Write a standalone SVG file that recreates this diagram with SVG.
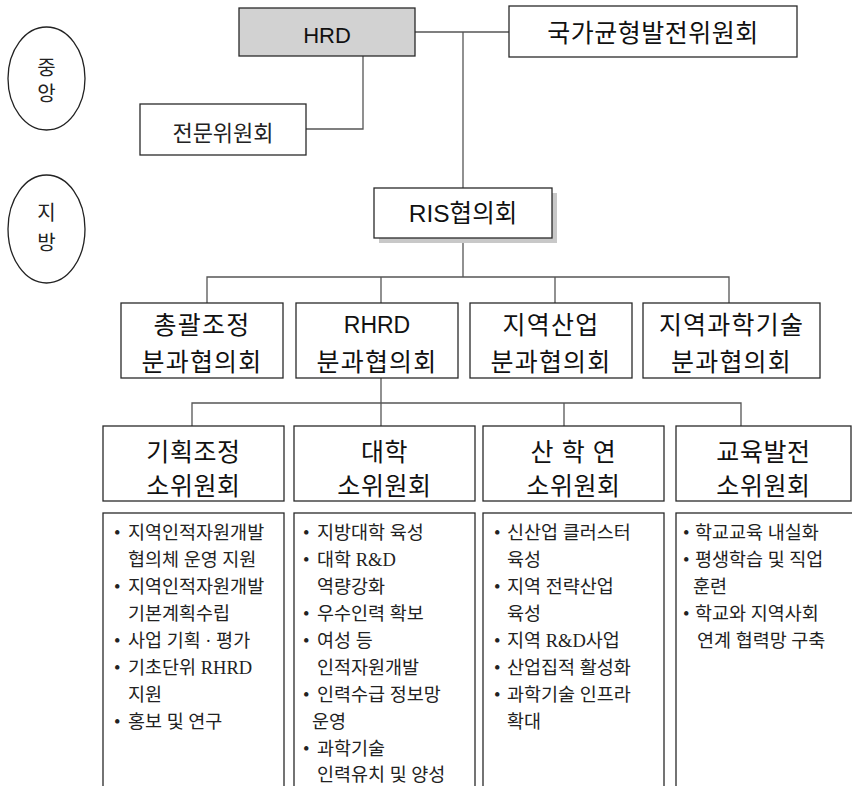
<svg xmlns="http://www.w3.org/2000/svg" width="852" height="786" viewBox="0 0 852 786">
<style>
.box{fill:#fff;stroke:#2a2a2a;stroke-width:1.3}
.ell{fill:#fff;stroke:#222;stroke-width:1.3}
.ln{fill:none;stroke:#555;stroke-width:1.3}
.t{font-family:"Liberation Sans","Noto Sans CJK KR",sans-serif;fill:#111;text-anchor:middle}
.l2{font-size:25px;letter-spacing:1.2px}
.l3{font-size:25px;letter-spacing:0.6px}
.s{font-family:"Liberation Serif","Noto Sans CJK KR",serif;fill:#222}
.b{font-size:18.5px}
</style>
<rect width="852" height="786" fill="#fff"/>
<g id="connectors">
<polyline class="ln" points="415,32 509,32"/>
<polyline class="ln" points="463,32 463,188"/>
<polyline class="ln" points="306,129 363,129 363,56"/>
<polyline class="ln" points="463,243 463,277"/>
<polyline class="ln" points="207,303 207,277 729,277 729,303"/>
<polyline class="ln" points="381,277 381,303"/>
<polyline class="ln" points="555,277 555,303"/>
<polyline class="ln" points="381,378 381,426"/>
<polyline class="ln" points="192,426 192,403 741,403 741,426"/>
<polyline class="ln" points="564,403 564,426"/>
</g>
<g id="central">
<ellipse class="ell" cx="46.5" cy="78.5" rx="38.5" ry="51.5"/>
<text class="s" x="46.5" y="75" font-size="20" text-anchor="middle">중</text>
<text class="s" x="46.5" y="101" font-size="20" text-anchor="middle">앙</text>
</g>
<g id="regional">
<ellipse class="ell" cx="46.5" cy="229" rx="38.5" ry="54"/>
<text class="s" x="46.5" y="220" font-size="20" text-anchor="middle">지</text>
<text class="s" x="46.5" y="250" font-size="20" text-anchor="middle">방</text>
</g>
<g id="hrd">
<rect x="239" y="8" width="176" height="48" fill="#d2d2d2" stroke="#2a2a2a" stroke-width="1.3"/>
<text class="t" x="327" y="43" font-size="22">HRD</text>
</g>
<g id="balance">
<rect class="box" x="509" y="6" width="288" height="51"/>
<text class="t" x="653" y="42" font-size="25" letter-spacing="0.5">국가균형발전위원회</text>
</g>
<g id="expert">
<rect class="box" x="140" y="104" width="166" height="51"/>
<text class="s" x="223" y="141" font-size="22" text-anchor="middle">전문위원회</text>
</g>
<g id="ris">
<rect x="379" y="193" width="178" height="50" fill="#c8c8c8"/>
<rect class="box" x="374" y="188" width="178" height="50"/>
<text class="t" x="463" y="222" font-size="24.5">RIS협의회</text>
</g>
<g id="sub-general">
<rect class="box" x="121" y="303" width="162" height="75"/>
<text class="t l2" x="202" y="334">총괄조정</text>
<text class="t l2" x="202" y="371">분과협의회</text>
</g>
<g id="sub-rhrd">
<rect class="box" x="296" y="303" width="162" height="75"/>
<text class="t" x="377" y="333" font-size="23">RHRD</text>
<text class="t l2" x="377" y="371">분과협의회</text>
</g>
<g id="sub-industry">
<rect class="box" x="470" y="303" width="162" height="75"/>
<text class="t l2" x="551" y="334">지역산업</text>
<text class="t l2" x="551" y="371">분과협의회</text>
</g>
<g id="sub-science">
<rect class="box" x="643" y="303" width="177" height="75"/>
<text class="t l2" x="731.5" y="334">지역과학기술</text>
<text class="t l2" x="731.5" y="371">분과협의회</text>
</g>
<g id="com-planning">
<rect class="box" x="103" y="426" width="181" height="75"/>
<text class="t l3" x="193.5" y="461">기획조정</text>
<text class="t l3" x="193.5" y="495">소위원회</text>
</g>
<g id="com-university">
<rect class="box" x="294" y="426" width="181" height="75"/>
<text class="t l3" x="384.5" y="461">대학</text>
<text class="t l3" x="384.5" y="495">소위원회</text>
</g>
<g id="com-industry">
<rect class="box" x="483" y="426" width="181" height="75"/>
<text class="t l3" x="573.5" y="461">산 학 연</text>
<text class="t l3" x="573.5" y="495">소위원회</text>
</g>
<g id="com-education">
<rect class="box" x="676" y="426" width="175" height="75"/>
<text class="t l3" x="763.5" y="461">교육발전</text>
<text class="t l3" x="763.5" y="495">소위원회</text>
</g>
<g id="list-planning" class="s b">
<rect class="box" x="103" y="513" width="181" height="290"/>
<text y="539"><tspan x="114">•</tspan><tspan x="128">지역인적자원개발</tspan></text>
<text x="128" y="566">협의체 운영 지원</text>
<text y="593"><tspan x="114">•</tspan><tspan x="128">지역인적자원개발</tspan></text>
<text x="128" y="620">기본계획수립</text>
<text y="647"><tspan x="114">•</tspan><tspan x="128">사업 기획 · 평가</tspan></text>
<text y="674"><tspan x="114">•</tspan><tspan x="128">기초단위 RHRD</tspan></text>
<text x="128" y="701">지원</text>
<text y="728"><tspan x="114">•</tspan><tspan x="128">홍보 및 연구</tspan></text>
</g>
<g id="list-university" class="s b">
<rect class="box" x="294" y="513" width="181" height="290"/>
<text y="539"><tspan x="303">•</tspan><tspan x="317">지방대학 육성</tspan></text>
<text y="566"><tspan x="303">•</tspan><tspan x="317">대학 R&amp;D</tspan></text>
<text x="317" y="593">역량강화</text>
<text y="620"><tspan x="303">•</tspan><tspan x="317">우수인력 확보</tspan></text>
<text y="647"><tspan x="303">•</tspan><tspan x="317">여성 등</tspan></text>
<text x="317" y="674">인적자원개발</text>
<text y="701"><tspan x="303">•</tspan><tspan x="317">인력수급 정보망</tspan></text>
<text x="312" y="728">운영</text>
<text y="755"><tspan x="303">•</tspan><tspan x="317">과학기술</tspan></text>
<text x="317" y="781">인력유치 및 양성</text>
</g>
<g id="list-industry" class="s b">
<rect class="box" x="483" y="513" width="181" height="290"/>
<text y="539"><tspan x="494">•</tspan><tspan x="507">신산업 클러스터</tspan></text>
<text x="507" y="566">육성</text>
<text y="593"><tspan x="494">•</tspan><tspan x="507">지역 전략산업</tspan></text>
<text x="507" y="620">육성</text>
<text y="647"><tspan x="494">•</tspan><tspan x="507">지역 R&amp;D사업</tspan></text>
<text y="674"><tspan x="494">•</tspan><tspan x="507">산업집적 활성화</tspan></text>
<text y="701"><tspan x="494">•</tspan><tspan x="507">과학기술 인프라</tspan></text>
<text x="507" y="728">확대</text>
</g>
<g id="list-education" class="s b">
<rect class="box" x="676" y="513" width="181" height="290"/>
<text y="539"><tspan x="683">•</tspan><tspan x="695">학교교육 내실화</tspan></text>
<text y="566"><tspan x="683">•</tspan><tspan x="695">평생학습 및 직업</tspan></text>
<text x="693" y="593">훈련</text>
<text y="620"><tspan x="683">•</tspan><tspan x="695">학교와 지역사회</tspan></text>
<text x="697" y="647">연계 협력망 구축</text>
</g>
</svg>
